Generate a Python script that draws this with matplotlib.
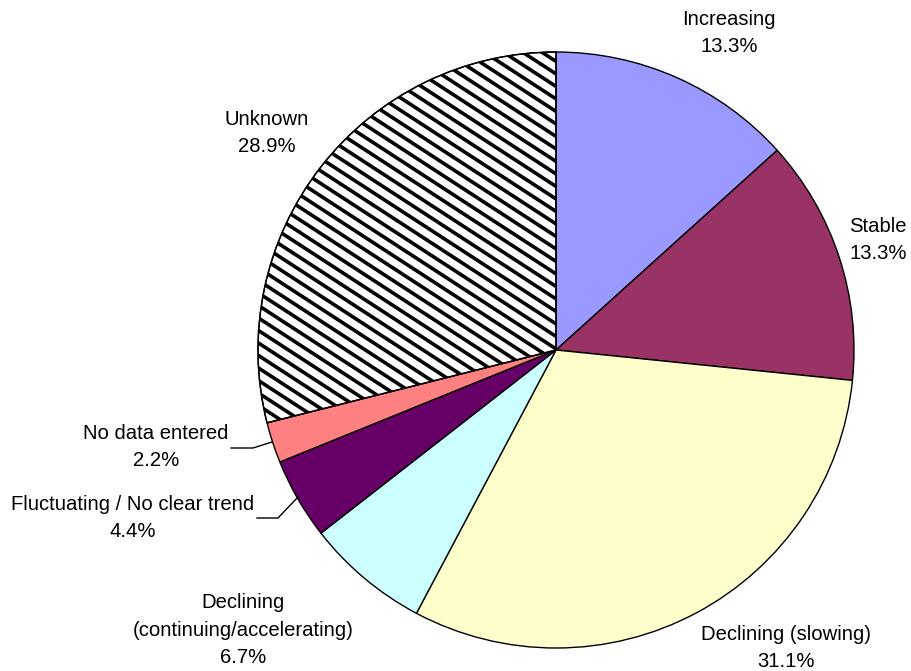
import numpy as np
import matplotlib.pyplot as plt
from matplotlib.patches import PathPatch

# data
labels = ["Increasing", "Stable", "Declining (slowing)",
          "Declining\n(continuing/accelerating)", "Fluctuating / No clear trend",
          "No data entered", "Unknown"]
shares = [13.3, 13.3, 31.1, 6.7, 4.4, 2.2, 28.9]
colors = ["#9999FF", "#993366", "#FFFFCC", "#CCFFFF", "#660066", "#FF8080", "white"]
striped = [False, False, False, False, False, False, True]

# layout (pixels, y measured from top)
W, H = 911, 671
center = (556, 350)
radius = 298
label_pos = [(729, 33), (878, 240), (786, 648), (243, 630),
             (133, 518), (156, 447), (267, 133)]
leaders = {4: [(257, 518), (278, 518), (298, 497)],
           5: [(231, 448), (253, 448), (272, 442)]}

plt.rcParams["font.family"] = ["Liberation Sans", "DejaVu Sans"]

fig = plt.figure(figsize=(W / 100, H / 100), dpi=100)
ax = fig.add_axes([0, 0, 1, 1])

wedges, _ = ax.pie(shares, colors=colors, startangle=90, counterclock=False,
                   center=(center[0], H - center[1]), radius=radius,
                   wedgeprops=dict(edgecolor="black", linewidth=1.0),
                   frame=True)
ax.set_xlim(0, W)
ax.set_ylim(0, H)
ax.set_aspect("equal")
ax.axis("off")

# diagonal stripes (shallower than matplotlib's 45 degree hatch)
slope = 0.65
step = 12.5
xs = np.array([0, W])
for w, s in zip(wedges, striped):
    if not s:
        continue
    for c in np.arange(-700, 1400, step):
        ys = c + slope * xs  # y from top
        ln, = ax.plot(xs, H - ys, color="black", lw=2.6, zorder=1.5,
                      solid_capstyle="butt")
        ln.set_clip_path(w)
    ax.add_patch(PathPatch(w.get_path(), transform=w.get_transform(),
                           fill=False, edgecolor="black", lw=1.0, zorder=3))

for i, (lab, v) in enumerate(zip(labels, shares)):
    x, y = label_pos[i]
    ax.text(x, H - y, f"{lab}\n{v:.1f}%", ha="center", va="center",
            fontsize=14.6, linespacing=1.55, color="black")

for i, pts in leaders.items():
    ax.plot([p[0] for p in pts], [H - p[1] for p in pts], color="black", lw=1.0)

plt.savefig("out.png", dpi=100, facecolor="white")
